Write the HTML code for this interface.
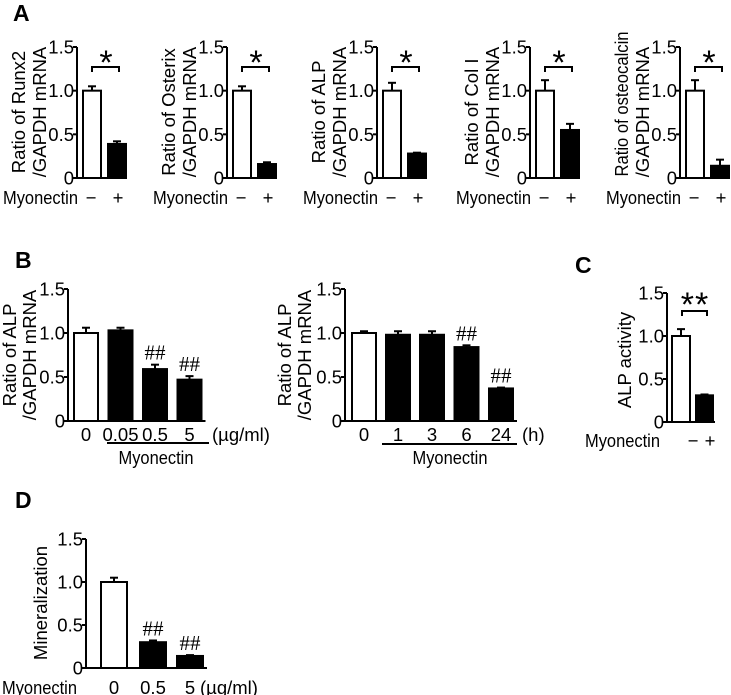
<!DOCTYPE html>
<html><head><meta charset="utf-8"><style>
html,body{margin:0;padding:0;background:#fff;}
svg{display:block;font-family:"Liberation Sans",Arial,sans-serif;}
</style></head><body>
<svg id="fig" width="731" height="695" viewBox="0 0 731 695" xmlns="http://www.w3.org/2000/svg"></svg>
<script>
// Panel A data
const aNames = ["Runx2","Osterix","ALP","Col I","osteocalcin"];
const aCtrl = [1.0,1.0,1.0,1.0,1.0];
const aCtrlErr = [0.05,0.05,0.09,0.12,0.12];
const aMyo = [0.39,0.16,0.28,0.55,0.14];
const aMyoErr = [0.03,0.02,0.01,0.07,0.07];
// Panel B dose
const bDoseLabels = ["0","0.05","0.5","5"];
const bDoseVals = [1.0,1.03,0.59,0.47];
const bDoseErr = [0.06,0.03,0.05,0.04];
const bDoseSig = ["","","##","##"];
// Panel B time
const bTimeLabels = ["0","1","3","6","24"];
const bTimeVals = [1.0,0.98,0.98,0.84,0.37];
const bTimeErr = [0.02,0.04,0.04,0.02,0.01];
const bTimeSig = ["","","","##","##"];
// Panel C
const cVals = [1.0,0.31];
const cErr = [0.08,0.01];
// Panel D
const dLabels = ["0","0.5","5"];
const dVals = [1.0,0.30,0.14];
const dErr = [0.05,0.02,0.01];
const dSig = ["","##","##"];
const yTicks = [0,0.5,1.0,1.5];
const yTickLabels = ["0","0.5","1.0","1.5"];

const FS = 18.5;
const svg = document.getElementById('fig');
const NS = "http://www.w3.org/2000/svg";
function el(tag, attrs, parent){
  const e = document.createElementNS(NS, tag);
  for (const k in attrs) e.setAttribute(k, attrs[k]);
  (parent||svg).appendChild(e);
  return e;
}
function txt(x,y,s,size,anchor,parent,extra){
  const t = el('text',{x:x,y:y,'font-size':size,'text-anchor':anchor||'start',fill:'#000'},parent);
  if(extra) for(const k in extra) t.setAttribute(k,extra[k]);
  t.textContent = s;
  return t;
}
function axes(g, ax, y0, y15, xEnd){
  const ys = v => y0 - v/1.5*(y0-y15);
  const yl = el('line',{x1:ax,y1:y0+1,x2:ax,y2:y15,stroke:'#000','stroke-width':2},g);
  
  
  const xl = el('line',{x1:ax-1,y1:y0,x2:xEnd,y2:y0,stroke:'#000','stroke-width':2},g);
  
  
  yTicks.forEach((v,i)=>{
    const y = ys(v);
    el('line',{x1:ax-4,y1:y,x2:ax,y2:y,stroke:'#000','stroke-width':2},g);
    const t = txt(ax-3,y+6.5,yTickLabels[i],FS,'end',g);
    
    
  });
  return ys;
}
function bar(g, x, w, v, err, ys, fill){
  const top = ys(v), base = ys(0);
  const cx = x + w/2;
  const et = ys(v+err);
  el('line',{x1:cx,y1:top,x2:cx,y2:et,stroke:'#000','stroke-width':2},g);
  el('line',{x1:cx-4,y1:et,x2:cx+4,y2:et,stroke:'#000','stroke-width':2},g);
  const r = el('rect',{x:x,y:top,width:w,height:base-top,fill:fill,stroke:'#000','stroke-width':2},g);
  
  
  return et;
}
function ylabel(g, cx, cy, s, len){
  const extra = {transform:'rotate(-90 '+cx+' '+cy+')'};
  if(len){ extra.textLength = len; extra.lengthAdjust = 'spacingAndGlyphs'; }
  const t = txt(cx, cy, s, FS, 'middle', g, extra);
  
  
}
function letter(x,y,s){
  const t = txt(x,y,s,23,'start',svg,{'font-weight':'bold'});
  
  
}
function myo(x,y,g){
  const m = txt(x,y,'Myonectin',FS,'start',g,{textLength:75,lengthAdjust:'spacingAndGlyphs'});
  
  
}

// Panel A
letter(13,21,"A");
const aAxes = [77,227,377,530,680];
aNames.forEach((n,i)=>{
  const g = el('g',{});
  
  
  const ax = aAxes[i];
  const ys = axes(g, ax, 178, 47, ax+50);
  bar(g, ax+6, 18, aCtrl[i], aCtrlErr[i], ys, '#fff');
  bar(g, ax+31, 18, aMyo[i], aMyoErr[i], ys, '#000');
  const by = 67;
  el('path',{d:'M'+(ax+15)+' '+(by+5)+' V'+by+' H'+(ax+42)+' V'+(by+5),fill:'none',stroke:'#000','stroke-width':2},g);
  txt(ax+29,by+7,'*',34,'middle',g);
  const long = n.length > 8;
  ylabel(g, ax-52, long ? 104 : 112, 'Ratio of '+n, long ? 145 : 0);
  ylabel(g, ax-31, 112, '/GAPDH mRNA');
  myo(ax-74,204,g);
  txt(ax+14,204,'−',FS,'middle',g);
  txt(ax+41,204,'+',FS,'middle',g);
});

// Panel B
letter(15,268,"B");
function groupChart(name, ax, starts, w, labels, vals, errs, sig, y0, y15, ly){
  const g = el('g',{});
  
  
  const ys = axes(g, ax, y0, y15, starts[starts.length-1]+w+4);
  vals.forEach((v,i)=>{
    const et = bar(g, starts[i], w, v, errs[i], ys, i===0?'#fff':'#000');
    if(sig[i]){
      const s = txt(starts[i]+w/2, et-5, sig[i], 21, 'middle', g, {'font-family':'"Liberation Serif",serif'});
      
      
    }
    const t = txt(starts[i]+w/2, ly, labels[i], FS, 'middle', g);
    
    
  });
  return g;
}
const gb1 = groupChart('chart-b-dose', 68, [74,108.5,143,177.5], 24, bDoseLabels, bDoseVals, bDoseErr, bDoseSig, 421, 289, 441);
txt(212,441,'(µg/ml)',FS,'start',gb1);
el('line',{x1:107,y1:443,x2:209,y2:443,stroke:'#000','stroke-width':2},gb1);
txt(156,464,'Myonectin',FS,'middle',gb1,{textLength:75,lengthAdjust:'spacingAndGlyphs'});
ylabel(gb1, 16, 355, 'Ratio of ALP');
ylabel(gb1, 36, 355, '/GAPDH mRNA');

const gb2 = groupChart('chart-b-time', 345, [352,386,420,454.5,489], 24, bTimeLabels, bTimeVals, bTimeErr, bTimeSig, 421, 289, 441);
txt(522,441,'(h)',FS,'start',gb2);
el('line',{x1:382,y1:444,x2:517,y2:444,stroke:'#000','stroke-width':2},gb2);
txt(450,464,'Myonectin',FS,'middle',gb2,{textLength:75,lengthAdjust:'spacingAndGlyphs'});
ylabel(gb2, 291, 355, 'Ratio of ALP');
ylabel(gb2, 311, 355, '/GAPDH mRNA');

// Panel C
letter(575,273,"C");
(function(){
  const g = el('g',{});
  
  
  const ys = axes(g, 667, 422, 293, 715);
  bar(g, 672, 18, cVals[0], cErr[0], ys, '#fff');
  bar(g, 696, 17, cVals[1], cErr[1], ys, '#000');
  el('path',{d:'M682 316 V311 H707 V316',fill:'none',stroke:'#000','stroke-width':2},g);
  txt(695,316,'**',34,'middle',g,{'letter-spacing':'1'});
  ylabel(g, 631, 360, 'ALP activity');
  myo(585,447,g);
  txt(693,447,'−',FS,'middle',g);
  txt(710,447,'+',FS,'middle',g);
})();

// Panel D
letter(15,508,"D");
(function(){
  const g = groupChart('chart-d-mineralization', 86, [101,140,177], 26, dLabels, dVals, dErr, dSig, 668, 539, 694);
  txt(200,694,'(µg/ml)',FS,'start',g);
  myo(2,694,g);
  ylabel(g, 47, 603, 'Mineralization');
})();
</script>
</body></html>
